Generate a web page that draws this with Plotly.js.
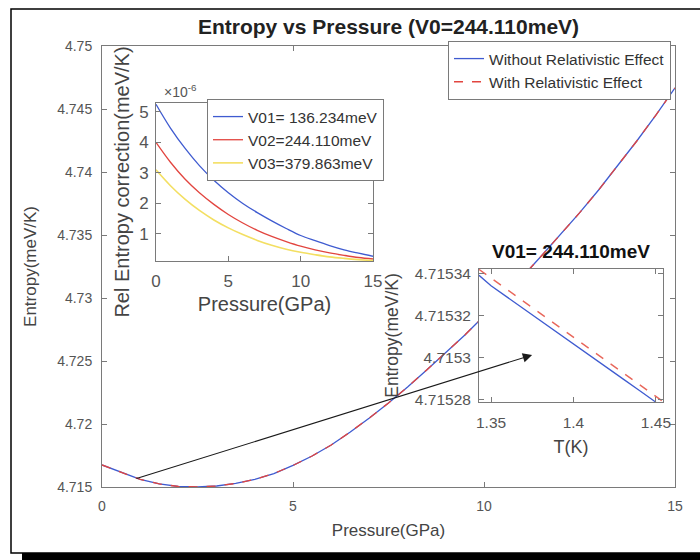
<!DOCTYPE html>
<html>
<head>
<meta charset="utf-8">
<script src="https://cdn.plot.ly/plotly-3.0.1.min.js"></script>
<style>
  html, body { margin: 0; padding: 0; background: #ffffff; }
  #chart { width: 700px; height: 560px; }
</style>
</head>
<body>
<div id="chart"></div>
<script>
// ---------------- data ----------------
// Main plot: entropy vs pressure
const pressure = [0, 0.5, 1, 1.5, 2, 2.5, 3, 3.5, 4, 4.5, 5, 5.5, 6, 6.5, 7, 7.5,
                  8, 8.5, 9, 9.5, 10, 10.5, 11, 11.5, 12, 12.5, 13, 13.5, 14, 14.5, 15];
const entropyWithout = [4.71675, 4.71615, 4.71560, 4.71524, 4.71504, 4.71500, 4.71508, 4.71528,
                        4.71560, 4.71607, 4.71671, 4.71746, 4.71833, 4.71937, 4.72048, 4.72167,
                        4.72294, 4.72429, 4.72564, 4.72706, 4.72857, 4.73008, 4.73167, 4.73333,
                        4.73500, 4.73675, 4.73857, 4.74048, 4.74246, 4.74452, 4.74667];
const entropyWith = [4.71675, 4.71615, 4.71560, 4.71524, 4.71504, 4.71500, 4.71508, 4.71528,
                     4.71560, 4.71607, 4.71671, 4.71746, 4.71833, 4.71937, 4.72048, 4.72167,
                     4.72294, 4.72429, 4.72564, 4.72706, 4.72857, 4.73008, 4.73167, 4.73333,
                     4.73500, 4.73675, 4.73857, 4.74048, 4.74246, 4.74452, 4.74667];
const mainXTicks = [0, 5, 10, 15];
const mainYTicks = [4.715, 4.72, 4.725, 4.73, 4.735, 4.74, 4.745, 4.75];

// Inset 1: relative entropy correction (x 1e-6 meV/K) vs pressure
const pressureInset = [0, 1, 2, 3, 4, 5, 6, 7, 8, 9, 10, 11, 12, 13, 14, 15];
const corrV01 = [5.25, 4.47, 3.81, 3.24, 2.76, 2.35, 2.00, 1.70, 1.43, 1.18, 0.95, 0.78, 0.62, 0.48, 0.37, 0.27];
const corrV02 = [4.00, 3.35, 2.80, 2.35, 1.97, 1.64, 1.36, 1.12, 0.92, 0.75, 0.60, 0.48, 0.38, 0.30, 0.23, 0.18];
const corrV03 = [3.10, 2.58, 2.14, 1.77, 1.46, 1.20, 0.98, 0.79, 0.63, 0.50, 0.40, 0.32, 0.25, 0.20, 0.16, 0.13];
const insetXTicks = [0, 5, 10, 15];
const insetYTicks = [1, 2, 3, 4, 5];

// Inset 2: zoom of entropy vs T
const tempWithout = [1.3427, 1.35, 1.36, 1.37, 1.38, 1.39, 1.40, 1.41, 1.42, 1.43, 1.44, 1.45];
const zoomWithout = [4.7153391, 4.7153341, 4.7153286, 4.7153230, 4.7153175, 4.7153119,
                     4.7153064, 4.7153009, 4.7152953, 4.7152898, 4.7152843, 4.7152787];
const tempWith = [1.3427, 1.35, 1.36, 1.37, 1.38, 1.39, 1.40, 1.41, 1.42, 1.43, 1.44, 1.45, 1.4543];
const zoomWith = [4.7153419, 4.7153378, 4.7153322, 4.7153265, 4.7153209, 4.7153152, 4.7153096,
                  4.7153039, 4.7152983, 4.7152927, 4.7152871, 4.7152814, 4.7152790];
const zoomXTicks = [1.35, 1.4, 1.45];
const zoomYTicks = [4.71528, 4.7153, 4.71532, 4.71534];
const zoomYTickText = ['4.71528', '4.7153', '4.71532', '4.71534'];

// Arrow (main-axes data coordinates)
const arrowTail = [0.864, 4.715635];
const arrowHead = [11.26, 4.725476];

// ---------------- styling ----------------
const FONT = 'Liberation Sans, Arial, Helvetica, sans-serif';
const BLUE = '#3f5bd0';
const RED = '#e2453f';
const YELLOW = '#f3df62';
const AXC = '#7a7a7a';
const TICKC = '#555555';
const TITLEC = '#444444';

const W = 700, H = 560;
const M = {l: 102, r: 25, t: 46, b: 73};
const PW = W - M.l - M.r, PH = H - M.t - M.b;
const px = v => (v - M.l) / PW;          // pixel x -> paper x
const py = v => (H - M.b - v) / PH;      // pixel y -> paper y

function axisStyle(extra) {
  return Object.assign({
    showline: true, linecolor: AXC, linewidth: 1, mirror: 'ticks',
    ticks: 'inside', ticklen: 5, tickcolor: AXC, tickwidth: 1,
    showgrid: false, zeroline: false,
    tickfont: {family: FONT, size: 14, color: TICKC}
  }, extra);
}

const traces = [
  {x: pressure, y: entropyWithout, type: 'scatter', mode: 'lines', name: 'Without Relativistic Effect',
   line: {color: BLUE, width: 1.3}, xaxis: 'x', yaxis: 'y', legend: 'legend'},
  {x: pressure, y: entropyWith, type: 'scatter', mode: 'lines', name: 'With Relativistic Effect',
   line: {color: RED, width: 1.3, dash: 'dash'}, xaxis: 'x', yaxis: 'y', legend: 'legend'},

  {x: pressureInset, y: corrV01, type: 'scatter', mode: 'lines', name: 'V01= 136.234meV',
   line: {color: BLUE, width: 1.3, shape: 'spline'}, xaxis: 'x2', yaxis: 'y2', legend: 'legend2'},
  {x: pressureInset, y: corrV02, type: 'scatter', mode: 'lines', name: 'V02=244.110meV',
   line: {color: RED, width: 1.3, shape: 'spline'}, xaxis: 'x2', yaxis: 'y2', legend: 'legend2'},
  {x: pressureInset, y: corrV03, type: 'scatter', mode: 'lines', name: 'V03=379.863meV',
   line: {color: YELLOW, width: 1.6, shape: 'spline'}, xaxis: 'x2', yaxis: 'y2', legend: 'legend2'},

  {x: tempWithout, y: zoomWithout, type: 'scatter', mode: 'lines', showlegend: false,
   line: {color: BLUE, width: 1.3}, xaxis: 'x3', yaxis: 'y3'},
  {x: tempWith, y: zoomWith, type: 'scatter', mode: 'lines', showlegend: false,
   line: {color: '#e8665a', width: 1.4, dash: 'dash'}, xaxis: 'x3', yaxis: 'y3'}
];

const inset1X = [px(156), px(373)], inset1Y = [py(261), py(103)];
const inset2X = [px(479), px(663)], inset2Y = [py(402), py(269)];

const layout = {
  width: W, height: H,
  margin: M,
  paper_bgcolor: '#ffffff', plot_bgcolor: '#ffffff',
  font: {family: FONT, size: 13, color: '#333'},
  showlegend: true,
  title: {text: '<b>Entropy vs Pressure (V0=244.110meV)</b>',
          font: {family: FONT, size: 21, color: '#222'},
          x: 0.5, xref: 'paper', xanchor: 'center', y: 1 - 27 / H, yref: 'container', yanchor: 'middle'},
  xaxis: axisStyle({domain: [0, 1], anchor: 'y', range: [0, 15], tickvals: mainXTicks,
                    ticklabelstandoff: 6,
                    title: {text: 'Pressure(GPa)', font: {family: FONT, size: 17, color: TITLEC}, standoff: 11}}),
  yaxis: axisStyle({domain: [0, 1], anchor: 'x', range: [4.715, 4.75], tickvals: mainYTicks,
                    ticklabelstandoff: 6,
                    title: {text: 'Entropy(meV/K)', font: {family: FONT, size: 17, color: TITLEC}, standoff: 16}}),

  xaxis2: axisStyle({domain: inset1X, anchor: 'y2', range: [0, 15], tickvals: insetXTicks,
                     ticklabelstandoff: 5, tickfont: {family: FONT, size: 17, color: TICKC},
                     title: {text: 'Pressure(GPa)', font: {family: FONT, size: 20, color: TITLEC}, standoff: 6}}),
  yaxis2: axisStyle({domain: inset1Y, anchor: 'x2', range: [0.115, 5.29], tickvals: insetYTicks,
                     ticklabelstandoff: 3, tickfont: {family: FONT, size: 17, color: TICKC},
                     title: {text: 'Rel Entropy correction(meV/K)', font: {family: FONT, size: 20, color: TITLEC}, standoff: 4}}),

  xaxis3: axisStyle({domain: inset2X, anchor: 'y3', range: [1.3427, 1.4543], tickvals: zoomXTicks,
                     ticklabelstandoff: 6, tickfont: {family: FONT, size: 15.5, color: TICKC},
                     title: {text: 'T(K)', font: {family: FONT, size: 18, color: TITLEC}, standoff: 10}}),
  yaxis3: axisStyle({domain: inset2Y, anchor: 'x3', range: [4.7152788, 4.7153421], tickvals: zoomYTicks,
                     ticktext: zoomYTickText, ticklabelstandoff: 4,
                     tickfont: {family: FONT, size: 15.5, color: TICKC},
                     title: {text: 'Entropy(meV/K)', font: {family: FONT, size: 17.5, color: TITLEC}, standoff: 11}}),

  legend: {x: px(448), y: py(41), xanchor: 'left', yanchor: 'top', bgcolor: '#ffffff',
           bordercolor: AXC, borderwidth: 1, font: {family: FONT, size: 15.5, color: '#333'},
           tracegroupgap: 0},
  legend2: {x: px(207), y: py(99), xanchor: 'left', yanchor: 'top', bgcolor: '#ffffff',
            bordercolor: AXC, borderwidth: 1, font: {family: FONT, size: 15.5, color: '#333'},
            tracegroupgap: 0},

  annotations: [
    {x: arrowHead[0], y: arrowHead[1], ax: arrowTail[0], ay: arrowTail[1], xref: 'x', yref: 'y',
     axref: 'x', ayref: 'y', text: '', showarrow: true, arrowhead: 2, arrowsize: 1.7,
     arrowwidth: 1.1, arrowcolor: '#1a1a1a'},
    {x: (inset2X[0] + inset2X[1]) / 2, y: py(251), xref: 'paper', yref: 'paper', showarrow: false,
     text: '<b>V01= 244.110meV</b>', font: {family: FONT, size: 19, color: '#111'},
     xanchor: 'center', yanchor: 'middle'},
    {x: px(162), y: py(91), xref: 'paper', yref: 'paper', showarrow: false,
     text: '×10<sup>-6</sup>', font: {family: FONT, size: 14, color: TICKC},
     xanchor: 'left', yanchor: 'middle'}
  ],
  shapes: [
    {type: 'rect', xref: 'paper', yref: 'paper', x0: px(11), x1: px(705), y0: py(553), y1: py(9),
     line: {color: '#000', width: 1.5}, fillcolor: 'rgba(0,0,0,0)', layer: 'above'},
    {type: 'rect', xref: 'paper', yref: 'paper', x0: px(22), x1: px(705), y0: py(561), y1: py(553),
     line: {width: 0}, fillcolor: '#000', layer: 'above'}
  ]
};

Plotly.newPlot('chart', traces, layout, {displayModeBar: false, staticPlot: true});
</script>
</body>
</html>
